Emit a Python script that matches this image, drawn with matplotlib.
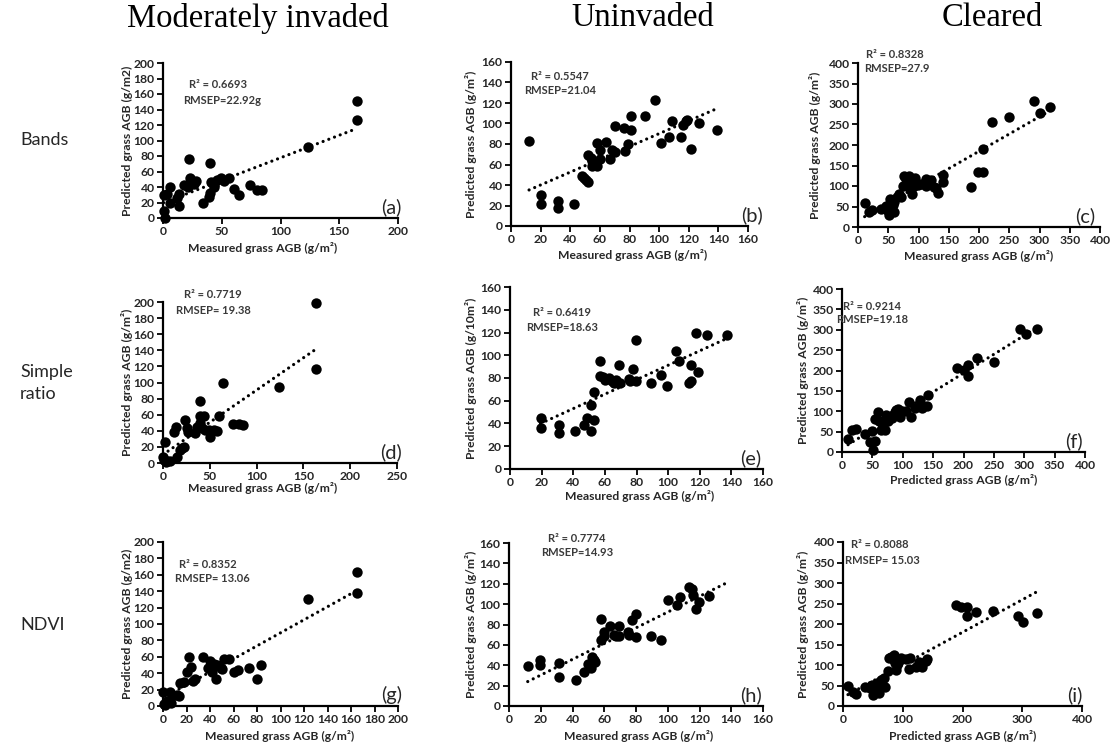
import numpy as np
import matplotlib
matplotlib.use('Agg')
import matplotlib.pyplot as plt

# ---------------- data ----------------
col_titles = ["Moderately invaded", "Uninvaded", "Cleared"]
row_titles = ["Bands", "Simple\nratio", "NDVI"]

# (a) Bands, moderately invaded
a_x = [0.5, 1, 1.6, 3.5, 6, 6, 12, 14, 14, 18, 21, 22, 23, 26, 28, 34, 39, 40, 40, 41,
       43, 43, 46, 49, 52, 56, 60, 65, 74, 80, 84, 123, 165, 165]
a_y = [30, 9, 0, 31, 40, 20, 26, 31, 15, 43, 40, 76, 52, 44, 48, 19, 27, 32, 71, 46,
       42, 40, 49, 51, 48, 52, 38, 30, 43, 36, 36, 91, 151, 126]
# (b) Bands, uninvaded
b_x = [12.2, 20, 20, 32, 32, 42.5, 48, 49, 50.5, 52, 52, 54, 54.5, 54.5, 58, 58, 60, 60, 64, 67,
       68.5, 70, 70.5, 76.5, 77, 78.7, 80.7, 80.7, 90.4, 97, 101, 107, 108.6, 114.8, 116, 118, 119,
       121.7, 127, 139]
b_y = [83, 30, 21.5, 24, 17.5, 21.5, 49, 47, 44.5, 43, 69, 66, 63, 58.5, 58.5, 81, 65, 74.5, 82, 65,
       74.5, 72, 97.5, 95.6, 73, 80, 94, 107, 107, 123, 81, 87, 102, 87, 99, 102, 103,
       75.4, 100.5, 93.7]
# (c) Bands, cleared
c_x = [11, 19, 23.5, 38, 46.6, 49, 52, 53.7, 57.5, 60, 60, 64, 67, 71, 74, 76.7, 79.5, 82, 85, 86,
       88.8, 90, 93, 95, 98.6, 104, 112, 112, 120.5, 126, 129, 133, 140, 141, 187, 198, 206.6, 206.6,
       221, 250, 291.5, 300, 318]
c_y = [59, 37, 41.5, 45, 51, 39, 29, 67.6, 54, 62, 37, 72, 81, 74, 100, 125, 116.5, 104, 125, 92,
       81, 112, 100, 119, 102, 104, 100, 118, 115, 98, 94.5, 84, 110, 127, 98, 133, 135, 191,
       257, 269, 307, 277, 292]
# (d) Simple ratio, moderately invaded
d_x = [0, 1, 2, 3, 4.5, 8, 12, 14, 15, 18, 20, 22, 24, 26, 27, 34, 36, 39, 39, 40,
       42, 44, 45, 49, 50, 54, 57.5, 60, 64.4, 74.7, 81.5, 85, 123.6, 163.7, 163.7]
d_y = [8, 4, 25.6, 1, 3, 2, 38, 45, 8, 16.5, 18.5, 20, 53.6, 43, 38, 37, 45, 58, 77, 49.5,
       44, 58, 41, 41, 32, 41, 40, 59, 100, 48.7, 48.7, 47.4, 95, 199, 117]
# (e) Simple ratio, uninvaded
e_x = [19.3, 19.3, 31, 31, 41, 47, 49, 51.5, 51.5, 53.4, 53.4, 57, 57, 59, 60, 62.7, 64.4, 65.5, 67, 69,
       69.6, 75, 76, 77.5, 79.6, 79.6, 89.4, 95.6, 99, 105, 107, 113, 114.7, 114.7, 117.5, 119, 124.7, 137]
e_y = [44.8, 36, 39, 32, 33.7, 39, 44.8, 56, 33, 67.4, 43.4, 94.7, 81.5, 80.6, 78, 80, 77.7, 76, 78.5, 91.7,
       75.6, 79.4, 77, 88.2, 113.7, 77, 75.6, 83, 72.7, 103.4, 94.7, 75.6, 77, 91, 120, 85, 118, 118]
# (f) Simple ratio, cleared
f_x = [10, 17, 22.6, 37.5, 45.7, 50, 51, 54, 54, 59.5, 61, 65, 67.8, 70.5, 73, 76, 78.8, 81.5, 84.3, 87,
       88.7, 91.5, 95, 98, 106, 110, 113.5, 120, 128, 131, 140.5, 142, 190, 200, 207, 207, 223, 249.6,
       293.7, 303, 321]
f_y = [32.6, 53, 57, 45, 23.7, 50.6, 5.7, 27.8, 81, 98, 77, 54.7, 67, 54.7, 91.4, 75, 87, 83, 91.4, 98,
       103.7, 105, 87, 99.6, 101, 121.6, 87, 107.8, 126.5, 107.8, 114, 140, 205.7, 201.6, 214, 187, 230, 220,
       302, 289, 301]
# (g) NDVI, moderately invaded
g_x = [0, 1, 2, 3.6, 5.8, 5.8, 6.9, 11.8, 14, 14.6, 17.9, 20, 22, 23.6, 25.5, 27.5, 34.3, 38, 39.8, 41.5,
       42, 43.4, 44.8, 46, 49, 50, 52, 55.8, 60.4, 64, 73.6, 79.7, 83.8, 123, 164.8, 164.8]
g_y = [17, 3, 1, 6, 17, 6, 4, 13, 12, 28.4, 29.6, 41.8, 60, 48, 30.4, 32.5, 60, 45.8, 54.8, 50,
       41.8, 50.7, 32.5, 50, 45.8, 44.6, 56.8, 56.8, 41.8, 43.8, 45.8, 32.5, 49.5, 130, 163.5, 138]
# (h) NDVI, uninvaded
h_x = [11.8, 19.7, 19.7, 31.5, 31.5, 41.9, 47.3, 49.7, 50.8, 51.8, 52.4, 53.5, 53.9, 58, 58, 59.7, 60, 63.8, 66, 67.4,
       69.4, 69.4, 75, 75.6, 77.7, 79.8, 80.2, 89.7, 96, 99.9, 106, 108, 113.4, 115.5, 116, 118, 119.8, 125.8]
h_y = [39.7, 45.5, 40, 42.3, 28.6, 26, 33.2, 41.6, 39, 37.4, 48, 45.5, 43.3, 85.5, 64.4, 72.5, 69, 79, 70, 68.3,
       78.7, 68.3, 73, 70, 84.5, 90.4, 67.3, 68.3, 64.4, 104, 99.2, 106.7, 116.4, 114.8, 109, 95.3, 102.4, 108.3]
# (i) NDVI, cleared
i_x = [8.3, 16.5, 22, 36, 45, 48.5, 51, 52.4, 55, 57, 60, 62, 63.4, 68, 70, 75.6, 77, 80, 84.4, 85.5,
       87, 88, 91, 94, 96.6, 105, 110, 111.5, 121.4, 127, 132.4, 139.6, 141, 188.7, 197, 207, 207, 223.4,
       251, 293, 302, 325]
i_y = [48.9, 35, 29.3, 45.6, 43.2, 51.3, 27, 35, 47, 57, 32.6, 49, 63.5, 67.6, 45.6, 86.4, 116.5, 120.6, 114, 124.6,
       104, 88, 100, 110.8, 116.5, 114, 89.6, 116.5, 96, 106.7, 96, 110, 114, 246.8, 241, 241, 220, 229,
       232, 220, 203.7, 227]

r2_values = ["0.6693", "0.5547", "0.8328", "0.7719", "0.6419", "0.9214", "0.8352", "0.7774", "0.8088"]
rmsep_texts = ["RMSEP=22.92g", "RMSEP=21.04", "RMSEP=27.9", "RMSEP= 19.38", "RMSEP=18.63",
               "RMSEP=19.18", "RMSEP= 13.06", "RMSEP=14.93", "RMSEP= 15.03"]
panel_tags = ["(a)", "(b)", "(c)", "(d)", "(e)", "(f)", "(g)", "(h)", "(i)"]
x_labels = ["Measured grass AGB (g/m²)"] * 5 + ["Predicted grass AGB (g/m²)"] + \
           ["Measured grass AGB (g/m²)"] * 2 + ["Predicted grass AGB (g/m²)"]
y_labels = ["Predicted grass AGB (g/m2)", "Predicted grass AGB (g/m²)", "Predicted grass AGB (g/m²)",
            "Predicted grass AGB (g/m²)", "Predicted grass AGB (g/10m²)", "Predicted grass AGB (g/m²)",
            "Predicted grass AGB (g/m2)", "Predicted grass AGB (g/m²)", "Predicted grass AGB (g/m²)"]
x_max = [200, 160, 400, 250, 160, 400, 200, 160, 400]
x_step = [50, 20, 50, 50, 20, 50, 20, 20, 100]
y_max = [200, 160, 400, 200, 160, 400, 200, 160, 400]
y_step = [20, 20, 50, 20, 20, 50, 20, 20, 50]
trend_end = [None, None, None, None, None, None, None, 139, None]

xs = [a_x, b_x, c_x, d_x, e_x, f_x, g_x, h_x, i_x]
ys = [a_y, b_y, c_y, d_y, e_y, f_y, g_y, h_y, i_y]

# ---------------- layout (pixels) ----------------
W, H = 1112, 748
boxes = [(163, 398, 63, 218), (511, 748, 62, 226), (858, 1100, 63, 227),
         (163, 397, 302, 463), (510, 763, 287, 469), (842, 1085, 289, 452),
         (163, 398, 542, 706), (509, 763, 543, 706), (843, 1082, 542, 706)]
ann_pos = [((218, 85), (222, 100)), ((560, 76), (560, 90)), ((895, 54), (897, 69)),
           ((213, 295), (213, 310)), ((562, 313), (562, 327)), ((872, 306), (872, 320)),
           ((208, 564), (212, 578)), ((577, 538), (577, 553)), ((880, 545), (882, 560))]
tag_right = [401, 763, 1095, 402, 761, 1083, 402, 762, 1083]
xlab_pos = [(263, 248), (633, 255), (979, 256), (263, 488), (640, 496), (964, 480),
            (280, 736), (639, 736), (963, 736)]
ylab_x = [127, 471, 815, 127, 471, 803, 127, 471, 803]

SANS = ['Lato', 'DejaVu Sans']
INK = '#262626'
GREY = '#3a3a3a'

fig = plt.figure(figsize=(W / 100, H / 100), dpi=100)
fig.patch.set_facecolor('white')


def fx(px):
    return px / W


def fy(py):
    return 1 - py / H


for k in range(9):
    l, r, t, b = boxes[k]
    ax = fig.add_axes([fx(l), fy(b), (r - l) / W, (b - t) / H])
    x = np.asarray(xs[k], float)
    y = np.asarray(ys[k], float)
    ax.scatter(x, y, s=56, color='black', zorder=3, linewidths=0, clip_on=False)
    slope, icpt = np.polyfit(x, y, 1)
    x_hi = trend_end[k] if trend_end[k] is not None else x.max()
    xl = np.array([x.min(), x_hi])
    ax.plot(xl, slope * xl + icpt, color='black', lw=2.3, linestyle=(0, (0.01, 1.9)),
            dash_capstyle='round', solid_capstyle='round', zorder=2)
    ax.set_xlim(0, x_max[k])
    ax.set_ylim(0, y_max[k])
    ax.set_xticks(np.arange(0, x_max[k] + 1, x_step[k]))
    ax.set_yticks(np.arange(0, y_max[k] + 1, y_step[k]))
    for s in ['top', 'right']:
        ax.spines[s].set_visible(False)
    for s in ['left', 'bottom']:
        ax.spines[s].set_linewidth(1.6)
        ax.spines[s].set_color('black')
    ax.tick_params(direction='out', length=4, width=1.3, color='black', pad=2,
                   labelsize=8.7, labelcolor=INK)
    for lab in ax.get_xticklabels() + ax.get_yticklabels():
        lab.set_family(SANS)
        lab.set_fontweight('bold')
    ax.patch.set_alpha(0)

    # axis labels
    fig.text(fx(xlab_pos[k][0]), fy(xlab_pos[k][1]), x_labels[k], ha='center', va='center',
             family=SANS, fontweight='bold', fontsize=8.7, color=INK)
    fig.text(fx(ylab_x[k]), fy((t + b) / 2), y_labels[k], ha='center', va='center',
             rotation=90, family=SANS, fontweight='bold', fontsize=8.7, color=INK)
    # annotations
    (p1, p2) = ann_pos[k]
    fig.text(fx(p1[0]), fy(p1[1]), "R² = " + r2_values[k], ha='center', va='center',
             family=SANS, fontweight='bold', fontsize=8, color=GREY)
    fig.text(fx(p2[0]), fy(p2[1]), rmsep_texts[k], ha='center', va='center',
             family=SANS, fontweight='bold', fontsize=8, color=GREY)
    fig.text(fx(tag_right[k]), fy(b - 2), panel_tags[k], ha='right', va='bottom',
             family=SANS, fontsize=14.5, color=INK)

# column titles
for cx, title in zip([258, 643, 992], col_titles):
    fig.text(fx(cx), fy(18), title, ha='center', va='center',
             family=['Liberation Serif', 'DejaVu Serif'], fontsize=23.5, color='black')

# row titles
for cy, title in zip([140, 383, 625], row_titles):
    fig.text(fx(20), fy(cy), title, ha='left', va='center', family=SANS,
             fontsize=13, color=INK, linespacing=1.5)

fig.savefig('out.png', dpi=100, facecolor='white')
